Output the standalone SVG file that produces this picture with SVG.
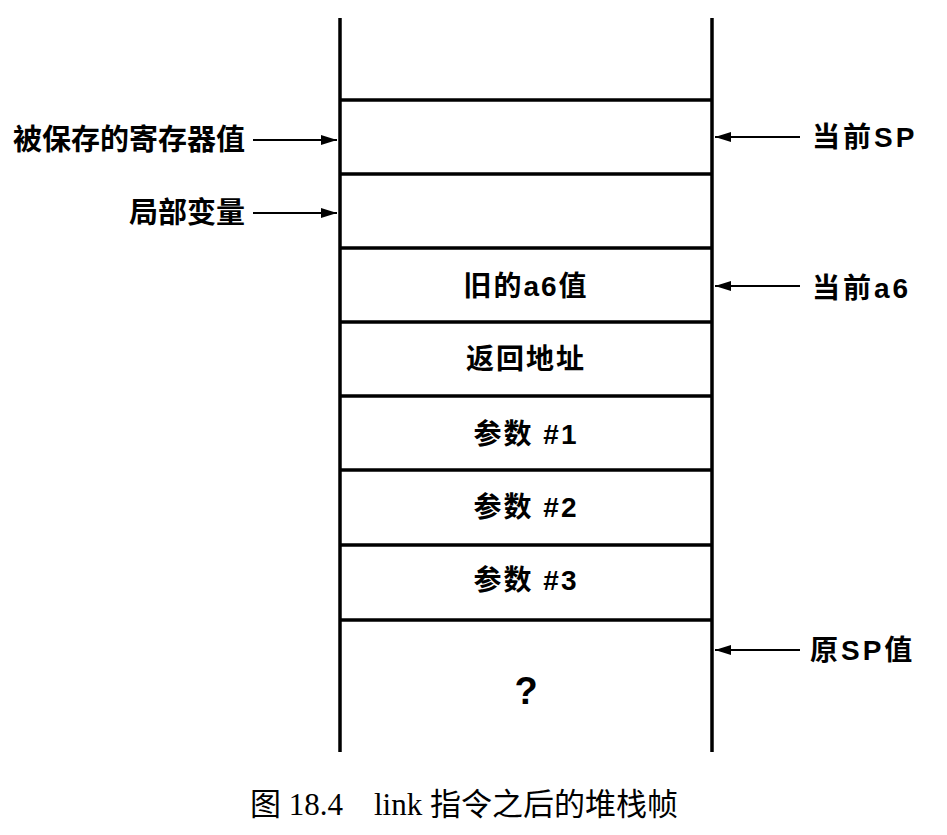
<svg xmlns="http://www.w3.org/2000/svg" width="947" height="835" viewBox="0 0 947 835">
<defs>
<marker id="ah" viewBox="0 0 16 10" refX="16" refY="5" markerWidth="16" markerHeight="10" markerUnits="userSpaceOnUse" orient="auto"><path d="M0,0 L16,5 L0,10 Z" fill="#000"/></marker>
<style>
.w{stroke:#000;stroke-width:3.5;fill:none}
.h{stroke:#000;stroke-width:3.5}
.a{stroke:#000;stroke-width:2;marker-end:url(#ah)}
.t{font-family:"Liberation Sans","Noto Sans CJK SC",sans-serif;font-weight:bold;font-size:28px;fill:#000}
.c{text-anchor:middle;letter-spacing:2px}
.r{letter-spacing:3px}
.cap{font-family:"Liberation Serif","Noto Sans CJK SC",serif;font-size:31px;fill:#000}
</style>
</defs>
<rect width="947" height="835" fill="#fff"/>
<g id="stack">
<line class="w" x1="340" y1="18" x2="340" y2="752"/>
<line class="w" x1="712" y1="18" x2="712" y2="752"/>
</g>
<g id="saved-regs"><line class="h" x1="340" y1="100" x2="712" y2="100"/></g>
<g id="locals"><line class="h" x1="340" y1="174" x2="712" y2="174"/></g>
<g id="old-a6"><line class="h" x1="340" y1="248" x2="712" y2="248"/><text class="t c" x="526" y="296">旧的a6值</text></g>
<g id="ret-addr"><line class="h" x1="340" y1="322" x2="712" y2="322"/><text class="t c" x="526" y="369">返回地址</text></g>
<g id="arg1"><line class="h" x1="340" y1="396" x2="712" y2="396"/><text class="t c" x="526" y="444">参数 #1</text></g>
<g id="arg2"><line class="h" x1="340" y1="470" x2="712" y2="470"/><text class="t c" x="526" y="517">参数 #2</text></g>
<g id="arg3"><line class="h" x1="340" y1="545" x2="712" y2="545"/><text class="t c" x="526" y="590">参数 #3</text></g>
<g id="unknown"><line class="h" x1="340" y1="620" x2="712" y2="620"/><text class="t" x="526" y="704" text-anchor="middle" style="font-size:38px">?</text></g>
<g id="lbl-saved"><text class="t" x="245" y="150" text-anchor="end" style="font-size:29px">被保存的寄存器值</text></g>
<g id="lbl-locals"><text class="t" x="245" y="223" text-anchor="end" style="font-size:29px">局部变量</text></g>
<g id="lbl-sp"><text class="t r" x="812" y="147">当前SP</text></g>
<g id="lbl-a6"><text class="t r" x="812" y="298">当前a6</text></g>
<g id="lbl-oldsp"><text class="t r" x="810" y="660">原SP值</text></g>
<g id="connectors">
<line class="a" x1="253" y1="140" x2="337" y2="140"/>
<line class="a" x1="253" y1="213" x2="337" y2="213"/>
<line class="a" x1="800" y1="137" x2="715" y2="137"/>
<line class="a" x1="800" y1="286" x2="715" y2="286"/>
<line class="a" x1="800" y1="650" x2="715" y2="650"/>
</g>
<g id="caption"><text class="cap" x="250" y="815" xml:space="preserve">图 18.4    link 指令之后的堆栈帧</text></g>
</svg>
